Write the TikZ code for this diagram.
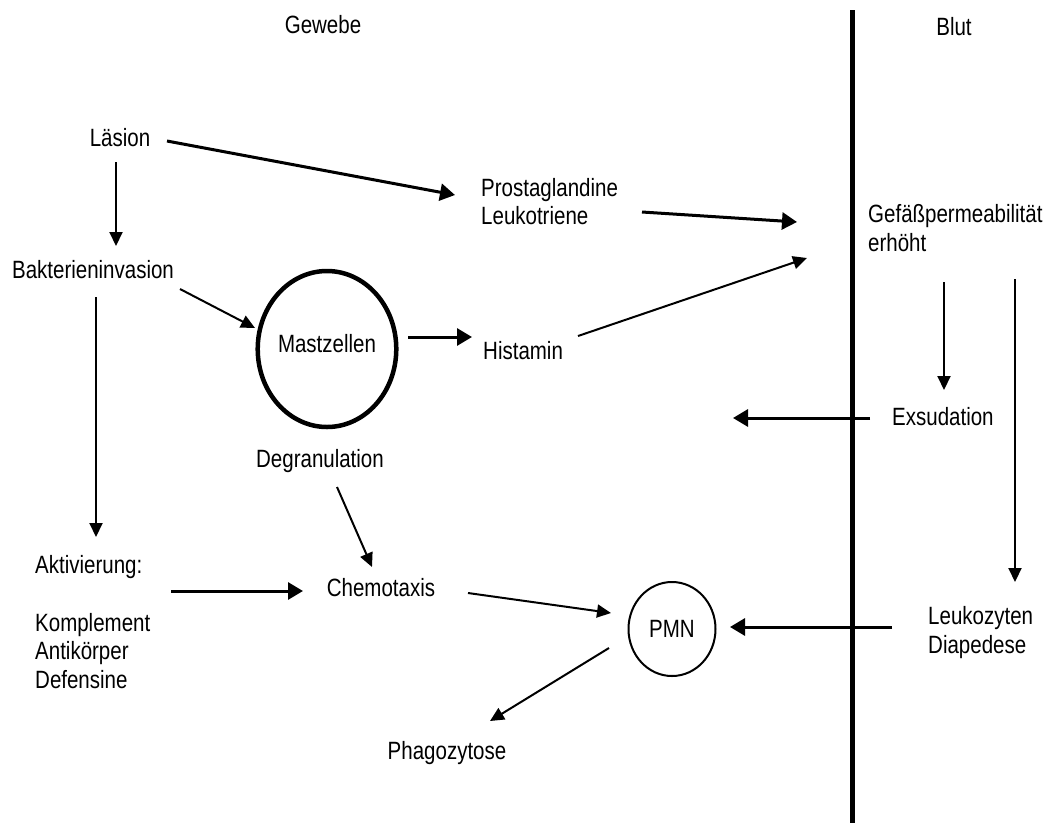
\documentclass[tikz,border=0pt]{standalone}
\usepackage{fontspec}
\setmainfont{Liberation Sans}[FakeStretch=0.82]
\usetikzlibrary{arrows.meta,shapes.geometric}
\tikzset{
  lbl/.style={inner sep=0pt, font=\fontsize{25}{28.5}\selectfont, align=left},
  arr/.style={line width=2pt, -{Triangle[length=14pt,width=13pt]}},
  tarr/.style={line width=3pt, -{Triangle[length=15pt,width=17pt]}},
}
\begin{document}
\begin{tikzpicture}[x=1pt,y=-1pt]
\useasboundingbox (0,0) rectangle (1052,823);
% membrane line
\coordinate (wtop) at (852,10);
\coordinate (wbot) at (852,823);
\draw[line width=5pt] (wtop) -- (wbot);
% nodes
\node[lbl,anchor=base] (gewebe) at (323,33) {Gewebe};
\node[lbl,anchor=base] (blut) at (954,35) {Blut};
\node[lbl,anchor=base] (laesion) at (120,146) {Läsion};
\node[lbl,anchor=base] (bakt) at (93,278) {Bakterieninvasion};
\node[lbl,anchor=base west] (prosta) at (481,224.5) {Prostaglandine\\Leukotriene};
\node[lbl,anchor=base west] (gefaess) at (868,251) {Gefäßpermeabilität\\erhöht};
\node[ellipse,draw,line width=4.5pt,minimum width=138pt,minimum height=156pt,inner sep=0pt,
      text height=18pt,text depth=12pt,font=\fontsize{25}{28.5}\selectfont] (mast) at (327,349) {Mastzellen};
\node[lbl,anchor=base west] (histamin) at (483,359) {Histamin};
\node[lbl,anchor=base] (degran) at (320,467) {Degranulation};
\node[lbl,anchor=base west] (aktiv) at (35,573) {Aktivierung:};
\node[lbl,anchor=base west] (kompl) at (35,688) {Komplement\\Antikörper\\Defensine};
\node[lbl,anchor=base] (chemo) at (381,596) {Chemotaxis};
\node[ellipse,draw,line width=2pt,minimum width=87pt,minimum height=94pt,inner sep=0pt,
      font=\fontsize{25}{28.5}\selectfont] (pmn) at (672,629) {PMN};
\node[lbl,anchor=base] (phago) at (447,759) {Phagozytose};
\node[lbl,anchor=base west] (exsud) at (892,425) {Exsudation};
\node[lbl,anchor=base west] (leuko) at (928,653) {Leukozyten\\Diapedese};
\coordinate (exsudEnd) at (733,418);
% connectors
\draw[arr] ([shift={(-4,16)}]laesion.base) -- ([shift={(23,-32)}]bakt.base);
\draw[tarr] ([shift={(47,-5)}]laesion.base) -- ([shift={(-26,-29.5)}]prosta.base west);
\draw[tarr] ([shift={(161,-12.5)}]prosta.base west) -- ([shift={(-71,-29)}]gefaess.base west);
\draw[arr] ([shift={(95,-23)}]histamin.base west) -- ([shift={(-61,7)}]gefaess.base west);
\draw[arr] ([shift={(87,11)}]bakt.base) -- ([shift={(-72,-21)}]mast.center);
\draw[tarr] ([shift={(81,-12)}]mast.center) -- ([shift={(-11,-22)}]histamin.base west);
\draw[arr] ([shift={(17,20)}]degran.base) -- ([shift={(-9,-29)}]chemo.base);
\draw[arr] ([shift={(3,19)}]bakt.base) -- ([shift={(61,-36)}]aktiv.base west);
\draw[tarr] ([shift={(136,18)}]aktiv.base west) -- ([shift={(-78,-5)}]chemo.base);
\draw[arr] ([shift={(87,-3)}]chemo.base) -- ([shift={(-61,-16)}]pmn.center);
\draw[arr] ([shift={(-63,19)}]pmn.center) -- ([shift={(43,-38)}]phago.base);
\draw[arr] ([shift={(76,31)}]gefaess.base west) -- ([shift={(52,-35)}]exsud.base west);
\draw[arr] ([shift={(147,28)}]gefaess.base west) -- ([shift={(87,-71)}]leuko.base west);
\draw[tarr] ([shift={(-22,-7)}]exsud.base west) -- (exsudEnd);
\draw[tarr] ([shift={(-36,-26)}]leuko.base west) -- ([shift={(58,-2)}]pmn.center);
\end{tikzpicture}
\end{document}
